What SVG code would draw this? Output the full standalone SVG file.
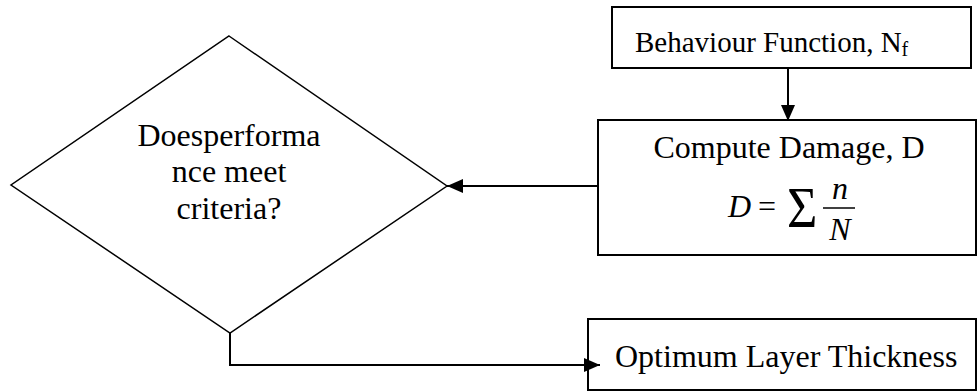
<svg xmlns="http://www.w3.org/2000/svg" width="977" height="392" viewBox="0 0 977 392">
<style>
.box{fill:#fff;stroke:#000;stroke-width:2}
.dia{fill:#fff;stroke:#000;stroke-width:1.5}
.t{font-family:"Liberation Serif","Times New Roman",serif;font-size:32px;fill:#000}
.c{text-anchor:middle}
.i{font-style:italic}
.ln{fill:none;stroke:#000;stroke-width:2}
</style>
<defs>
<marker id="ah" viewBox="0 0 16 14" refX="16" refY="7" markerWidth="16" markerHeight="14" markerUnits="userSpaceOnUse" orient="auto">
<path d="M0,0 L16,7 L0,14 Z" fill="#000"/>
</marker>
</defs>
<g id="behaviour">
<rect class="box" x="612" y="7" width="359" height="61"/>
<text class="t" x="635" y="52" style="font-size:29px">Behaviour Function, N<tspan style="font-size:20px" dy="4">f</tspan></text>
</g>
<g id="compute">
<rect class="box" x="598" y="120" width="378" height="135"/>
<text class="t c" x="789" y="158">Compute Damage, D</text>
<text class="t i" x="728" y="217">D</text>
<text class="t" x="758" y="217">=</text>
<text class="t" transform="translate(787,227) scale(0.9,1)" style="font-size:58px">Σ</text>
<line x1="823" y1="208" x2="855" y2="208" stroke="#000" stroke-width="1.5"/>
<text class="t i c" x="840" y="199">n</text>
<text class="t i c" x="840" y="240">N</text>
</g>
<g id="decision">
<polygon class="dia" points="229,36 447,186 230,333 11,185"/>
<text class="t c" x="229" y="146">Doesperforma</text>
<text class="t c" x="229" y="182">nce meet</text>
<text class="t c" x="229" y="219">criteria?</text>
</g>
<g id="optimum">
<rect class="box" x="588" y="319" width="388" height="71"/>
<text class="t" x="615" y="367">Optimum Layer Thickness</text>
</g>
<g id="connectors">
<line class="ln" x1="788" y1="68" x2="788" y2="121" marker-end="url(#ah)"/>
<line class="ln" x1="598" y1="186" x2="447" y2="186" marker-end="url(#ah)"/>
<polyline class="ln" points="230,333 230,365 600,365" marker-end="url(#ah)"/>
</g>
</svg>
